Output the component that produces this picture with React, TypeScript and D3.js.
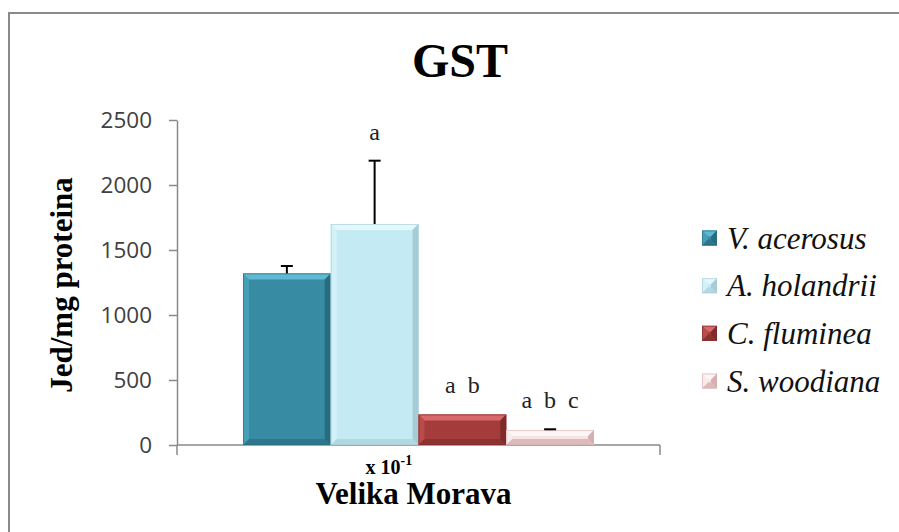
import React, { useRef, useEffect } from 'react';
import * as d3 from 'd3';

// data
const categories = ['x 10'];
const species = ['V. acerosus', 'A. holandrii', 'C. fluminea', 'S. woodiana'];
const means = [1320, 1700, 235, 115];
const errors = [57, 487, 0, 6];
const letters = ['', 'a', 'a  b', 'a  b  c'];
const yTicks = [0, 500, 1000, 1500, 2000, 2500];

// bevel palettes: main, top, left, right, bottom
const palettes = [
  ['#378ba3', '#5fb9d2', '#469fb7', '#286c80', '#2d768b'],
  ['#c4eaf3', '#e3f8fd', '#d3f1f8', '#a6ccd6', '#b2d8e2'],
  ['#a53c3c', '#d96868', '#b84b4b', '#7f2b2b', '#8d3131'],
  ['#f7e3e3', '#fdf6f6', '#f9ebeb', '#d6b0b0', '#dcbaba'],
];

function bevel(g: any, x: number, y: number, w: number, h: number, pal: string[]) {
  const b = Math.min(6, h / 2.2, w / 2.2);
  const pts = (arr: number[][]) => arr.map(p => p.join(',')).join(' ');
  g.append('rect').attr('x', x).attr('y', y).attr('width', w).attr('height', h).attr('fill', pal[0]);
  g.append('polygon').attr('fill', pal[1])
    .attr('points', pts([[x, y], [x + w, y], [x + w - b, y + b], [x + b, y + b]]));
  g.append('polygon').attr('fill', pal[2])
    .attr('points', pts([[x, y], [x + b, y + b], [x + b, y + h - b], [x, y + h]]));
  g.append('polygon').attr('fill', pal[3])
    .attr('points', pts([[x + w, y], [x + w, y + h], [x + w - b, y + h - b], [x + w - b, y + b]]));
  g.append('polygon').attr('fill', pal[4])
    .attr('points', pts([[x, y + h], [x + b, y + h - b], [x + w - b, y + h - b], [x + w, y + h]]));
  g.append('rect').attr('x', x + 0.5).attr('y', y + 0.5).attr('width', w - 1).attr('height', h - 1)
    .attr('fill', 'none').attr('stroke', pal[3]).attr('stroke-opacity', 0.6);
}

const App = () => {
  const svgRef = useRef<SVGSVGElement>(null);

  useEffect(() => {
    const svg = d3.select(svgRef.current);
    svg.selectAll('*').remove();

    const serif = "'Liberation Serif', 'DejaVu Serif', serif";

    // outer chart frame
    svg.append('rect')
      .attr('x', 9).attr('y', 13).attr('width', 1000).attr('height', 1000)
      .attr('fill', 'none').attr('stroke', '#8a8a8a').attr('stroke-width', 2);

    const x0 = d3.scaleBand().domain(categories).range([177, 660]).paddingOuter(0.188).paddingInner(0);
    const x1 = d3.scaleBand().domain(species).range([0, x0.bandwidth()]);
    const y = d3.scaleLinear().domain([0, 2500]).range([445, 120]);

    // y axis
    svg.append('g')
      .attr('transform', 'translate(177,0)')
      .call(d3.axisLeft(y).tickValues(yTicks).tickFormat(d3.format('d')).tickSize(8).tickPadding(17).tickSizeOuter(0))
      .call(g => g.select('.domain').attr('stroke', '#8a8a8a').attr('stroke-width', 1.5))
      .call(g => g.selectAll('.tick line').attr('stroke', '#8a8a8a').attr('stroke-width', 1.5))
      .call(g => g.selectAll('.tick text')
        .attr('fill', '#404040')
        .style('font-family', "'Open Sans', sans-serif")
        .style('font-size', '22.5px'));

    // x axis with end ticks
    const [xa, xb] = x0.range();
    const xg = svg.append('g');
    xg.append('line').attr('x1', xa).attr('x2', xb).attr('y1', y(0)).attr('y2', y(0))
      .attr('stroke', '#8a8a8a').attr('stroke-width', 1.5);
    [xa, xb].forEach(v => {
      xg.append('line').attr('x1', v).attr('x2', v).attr('y1', y(0)).attr('y2', y(0) + 10)
        .attr('stroke', '#8a8a8a').attr('stroke-width', 1.5);
    });

    // bars
    const bars = svg.append('g');
    const cat = categories[0];
    species.forEach((s, i) => {
      const bx = (x0(cat) as number) + (x1(s) as number);
      const bw = x1.bandwidth();
      bevel(bars, bx, y(means[i]), bw, y(0) - y(means[i]), palettes[i]);
    });

    // error bars (upper only)
    species.forEach((s, i) => {
      if (!errors[i]) return;
      const cx = (x0(cat) as number) + (x1(s) as number) + x1.bandwidth() / 2;
      const top = y(means[i] + errors[i]);
      bars.append('line').attr('x1', cx).attr('x2', cx).attr('y1', y(means[i])).attr('y2', top)
        .attr('stroke', '#000').attr('stroke-width', 2);
      bars.append('line').attr('x1', cx - 6).attr('x2', cx + 6).attr('y1', top).attr('y2', top)
        .attr('stroke', '#000').attr('stroke-width', 2);
    });

    // significance letters
    species.forEach((s, i) => {
      if (!letters[i]) return;
      const cx = (x0(cat) as number) + (x1(s) as number) + x1.bandwidth() / 2;
      svg.append('text')
        .attr('x', cx).attr('y', y(means[i] + errors[i]) - 21)
        .attr('text-anchor', 'middle')
        .style('white-space', 'pre')
        .style('font-family', serif).style('font-size', '24px').attr('fill', '#222')
        .text(letters[i]);
    });

    // category label with superscript
    const catX = (x0(cat) as number) + x0.bandwidth() / 2;
    const cl = svg.append('text')
      .attr('x', catX - 53).attr('y', 474)
      .style('font-family', serif).style('font-weight', 'bold').style('font-size', '20px');
    cl.append('tspan').text(categories[0]);
    cl.append('tspan').attr('dy', -9).style('font-size', '14px').text('-1');

    // axis titles
    svg.append('text')
      .attr('x', catX - 5).attr('y', 504).attr('text-anchor', 'middle')
      .style('font-family', serif).style('font-weight', 'bold').style('font-size', '31px')
      .text('Velika Morava');

    svg.append('text')
      .attr('transform', 'translate(72,285) rotate(-90)')
      .attr('text-anchor', 'middle')
      .style('font-family', serif).style('font-weight', 'bold').style('font-size', '31px')
      .text('Jed/mg proteina');

    svg.append('text')
      .attr('x', 460).attr('y', 77).attr('text-anchor', 'middle')
      .style('font-family', serif).style('font-weight', 'bold').style('font-size', '48px')
      .text('GST');

    // legend
    const legend = svg.append('g');
    const ly = d3.scalePoint().domain(species).range([238, 381]);
    species.forEach((s, i) => {
      const cy = ly(s) as number;
      bevel(legend, 702, cy - 7.5, 15, 15, palettes[i]);
      legend.append('text')
        .attr('x', 727).attr('y', cy + 10.5)
        .style('font-family', serif).style('font-style', 'italic').style('font-size', '31px')
        .attr('fill', '#111')
        .text(s);
    });
  }, []);

  return (
    <svg ref={svgRef} width={899} height={532}
      style={{ position: 'absolute', left: 0, top: 0, background: '#fff' }} />
  );
};

export default App;
